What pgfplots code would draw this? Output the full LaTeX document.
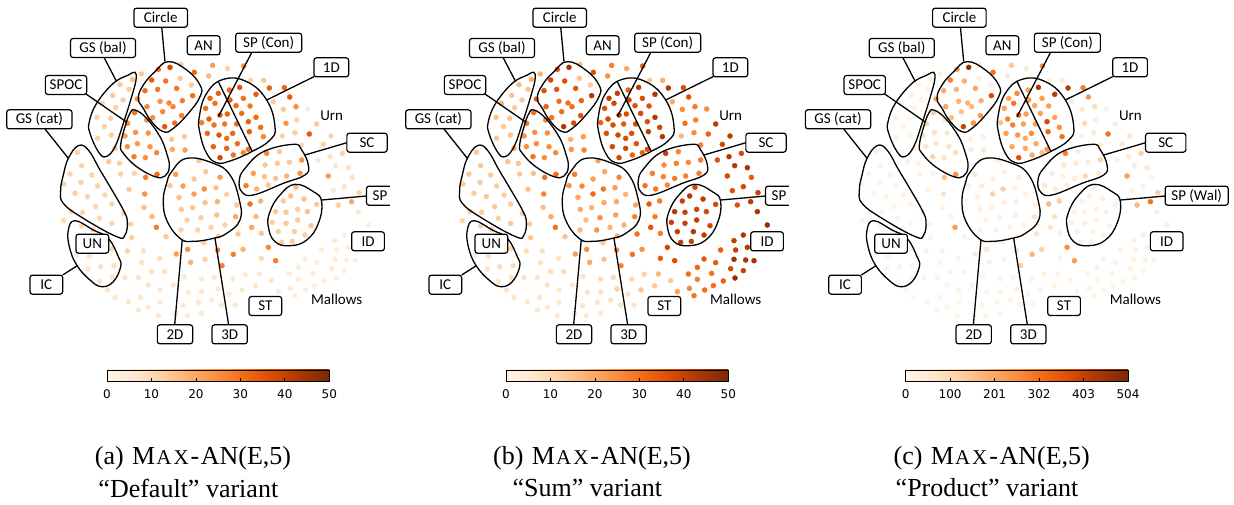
\documentclass[border=0pt]{standalone}
\usepackage{fontspec}
\setmainfont{Liberation Serif}
\newfontfamily\labfont{Carlito}
\newfontfamily\barfont{DejaVu Sans}
\usepackage{pgfplots}
\usepackage{pgfplotstable}
\pgfplotsset{compat=1.18}

% positions are in pixels x3 of the reference, a and b on 0..50, c on 0..504
\pgfplotstableread{
x y a b c
510 202 38 44 470
475 208 30 35 230
543 193 13 15 35
583 217 32 37 300
455 240 33 38 280
541 235 14 15 25
497 243 29 36 190
574 255 13 13 20
435 272 30 36 200
473 268 29 35 180
530 265 29 35 210
578 287 31 43 380
547 302 28 33 190
507 309 26 30 180
480 304 24 30 180
441 320 27 33 210
519 320 26 31 170
488 335 26 31 150
545 347 28 36 230
458 353 25 30 160
494 380 35 43 400
524 369 31 37 240
412 297 24 33 210
638 196 22 28 140
683 206 13 20 60
626 228 17 24 60
731 198 25 33 250
752 241 12 14 25
791 241 14 19 50
808 264 33 43 420
853 263 33 37 280
869 291 34 36 230
820 305 13 20 30
850 328 14 26 60
888 320 25 28 90
923 327 4 25 20
858 370 24 30 100
890 360 12 27 30
950 372 14 41 30
928 402 34 33 300
885 398 13 25 40
847 408 12 17 20
993 408 12 41 70
970 433 12 38 60
905 435 10 27 30
1027 460 12 38 120
990 470 8 42 50
955 480 5 36 20
1045 503 8 44 60
1007 497 6 42 40
424 222 14 18 15
397 238 15 19 25
360 254 14 17 25
387 268 13 15 20
338 286 14 15 20
369 300 13 14 18
307 310 12 19 22
347 323 13 14 18
291 352 12 15 20
332 355 13 15 15
313 380 12 14 20
293 415 12 14 15
334 405 13 15 15
345 445 14 20 30
404 338 30 30 130
383 370 26 29 120
440 360 24 27 70
407 397 24 25 80
445 399 24 25 60
375 408 22 24 60
412 431 23 25 70
382 440 25 25 70
450 440 24 25 70
402 470 28 30 120
436 473 25 25 70
470 458 26 26 90
471 523 31 31 250
437 532 28 30 160
515 418 14 18 30
553 410 14 23 35
517 448 20 24 40
555 450 22 27 55
630 295 32 40 210
655 280 33 41 260
688 270 30 33 210
719 262 35 42 440
768 283 34 43 420
730 295 30 37 220
690 300 33 38 230
617 325 30 36 210
645 310 30 38 300
708 317 31 36 200
750 318 29 36 220
660 345 34 40 330
682 342 33 37 220
627 357 33 38 270
725 340 31 38 220
768 352 31 43 210
745 365 33 37 380
605 368 28 33 160
642 375 30 37 280
674 372 29 34 220
710 372 30 37 220
782 382 31 39 250
622 400 32 37 220
657 405 35 38 240
698 400 32 37 260
748 395 34 41 320
680 415 31 37 200
640 440 33 38 210
680 445 33 38 200
712 431 31 36 200
790 410 26 43 300
745 448 30 37 240
660 473 38 38 360
700 465 30 33 190
730 458 27 33 160
838 455 14 27 40
800 460 26 41 280
795 495 14 25 50
832 490 14 27 45
868 487 14 26 50
905 480 24 28 110
760 520 22 28 40
793 530 15 27 30
827 535 15 28 40
860 528 18 27 110
900 520 24 28 50
738 557 28 30 60
770 567 18 29 50
805 555 14 26 40
985 528 22 38 220
1057 532 8 34 12
1033 560 7 38 12
1000 572 6 36 10
1077 578 12 40 130
1055 605 20 42 300
1015 615 13 36 170
1075 635 5 44 30
1105 675 3 47 25
1033 705 3 43 15
1005 722 4 40 15
1010 750 3 40 12
965 750 4 33 15
1045 742 3 42 10
1005 778 4 45 12
1040 780 3 44 12
1065 782 3 44 10
915 777 4 34 12
950 788 4 34 12
995 806 4 38 12
1033 812 3 40 10
895 802 4 32 12
938 820 4 30 12
1008 834 3 47 8
868 822 4 30 10
895 838 4 28 10
973 843 3 33 10
943 857 3 31 10
917 870 4 30 10
871 865 4 26 12
885 887 4 29 10
835 875 5 22 15
815 842 6 14 15
778 822 6 17 18
767 857 6 14 15
736 823 5 12 15
726 870 6 14 15
698 837 6 10 12
654 867 6 12 15
643 832 6 10 12
605 837 6 9 12
888 562 16 38 35
850 603 14 40 25
872 588 16 42 35
912 597 15 41 30
950 613 14 38 25
827 635 14 43 25
858 637 14 40 22
893 628 13 39 25
922 635 15 38 28
817 667 13 40 20
858 670 14 40 20
893 660 13 41 18
933 677 14 38 25
835 695 13 41 20
883 695 13 43 18
915 705 13 41 18
845 727 13 41 20
877 724 13 40 20
527 523 22 28 60
510 557 14 24 30
549 558 22 26 45
582 537 14 22 30
617 515 14 20 25
597 482 14 22 30
660 532 22 26 40
613 567 25 29 130
648 563 15 22 30
582 582 22 31 120
537 592 15 20 25
680 583 13 18 25
615 608 15 20 25
652 605 18 20 35
578 623 14 18 20
544 628 14 20 20
710 615 14 21 25
707 650 20 27 70
650 645 15 22 35
603 653 13 25 25
561 660 12 16 20
633 682 12 18 20
675 675 12 18 20
593 690 12 24 20
543 690 12 17 20
655 708 13 18 20
232 457 12 14 12
245 497 12 14 12
210 522 12 14 14
275 525 12 14 14
192 552 12 13 12
243 547 12 13 12
293 558 12 13 12
225 580 13 13 14
262 590 12 14 12
315 585 11 13 12
287 620 11 14 12
335 612 11 13 14
248 637 11 13 12
213 635 10 12 10
370 640 11 14 12
298 655 11 13 12
335 670 11 14 12
326 485 14 15 20
358 490 13 15 18
362 522 12 14 14
403 520 12 15 14
387 568 14 15 18
434 582 24 27 75
432 622 15 16 18
456 650 17 19 22
469 682 28 30 220
498 710 14 15 20
395 713 13 14 12
392 672 12 14 12
190 662 10 11 12
382 753 12 10 12
430 753 8 8 10
479 775 9 8 10
425 788 8 8 10
455 815 8 9 12
494 815 8 9 12
375 833 7 7 10
415 832 7 7 10
445 855 7 7 10
480 870 6 6 10
520 855 6 6 10
345 892 6 6 10
385 905 6 6 10
422 892 6 6 10
445 922 6 6 8
480 907 6 6 8
245 678 11 12 10
278 688 11 12 10
335 747 10 10 10
268 768 8 8 8
230 765 5 5 6
342 797 8 9 8
302 800 8 9 8
265 807 6 6 6
298 845 7 7 8
337 832 7 7 8
322 870 7 7 8
563 748 24 25 60
529 762 22 22 55
653 750 26 26 80
612 728 12 14 14
572 787 18 20 30
615 778 12 15 14
666 797 28 27 130
700 763 28 30 180
729 748 18 24 120
714 702 14 30 70
755 682 20 35 70
784 700 15 28 30
768 650 17 28 80
750 612 30 34 170
782 603 18 28 130
805 742 26 38 250
827 782 28 37 230
784 775 10 34 14
552 830 6 7 10
565 877 6 7 10
605 875 6 7 10
635 900 6 7 10
595 907 6 7 8
550 917 6 7 8
527 943 6 6 8
562 947 6 6 8
605 940 6 6 8
665 915 6 7 8
687 882 6 7 10
705 915 6 7 10
475 947 6 6 8
415 930 6 6 8
}\pts

\pgfplotsset{
  colormap={oranges}{rgb255=(255,245,235) rgb255=(254,230,206) rgb255=(253,208,162) rgb255=(253,174,107) rgb255=(253,141,60) rgb255=(241,105,19) rgb255=(217,72,1) rgb255=(166,54,3) rgb255=(127,39,4)},
  panel/.style={
    scale only axis, width=400pt, height=504pt,
    xmin=0, xmax=1200, ymin=0, ymax=1512, y dir=reverse,
    hide axis, clip=false, clip mode=individual, anchor=south west,
    colormap name=oranges,
    colorbar horizontal,
    colorbar style={
      scale only axis, width=222.3pt, height=11.7pt,
      at={(0.2675,0.2659)}, anchor=north west,
      tick style={black, line width=.7pt},
      xtick pos=bottom, major tick length=3.5pt,
      tick label style={font=\barfont\fontsize{12}{13}\selectfont},
      xticklabel shift=4.5pt,
      /pgf/number format/assume math mode=true,
      axis line style={line width=.7pt},
    },
  },
  dots/.style={
    scatter, only marks, mark=*, mark size=2.5pt,
    point meta=explicit,
    scatter/use mapped color={draw=mapped color, fill=mapped color},
  },
}
\tikzset{
  lab/.style={draw=black, fill=white, rounded corners=2.5pt, line width=1.2pt,
    inner sep=0pt, minimum height=19pt, font=\labfont\fontsize{15}{17}\selectfont},
  free/.style={font=\labfont\fontsize{15}{17}\selectfont},
  ring/.style={black, line width=1.3pt},
}

% everything drawn over the dots, the same in each panel
\newcommand{\regions}{%
  \draw[ring] plot[smooth cycle, tension=.75] coordinates {(505,185)(560,210)(600,255)(600,290)(565,340)(520,385)(490,395)(455,365)(430,325)(415,295)(430,255)(465,215)};
  \draw[ring] plot[smooth cycle, tension=.7] coordinates {(405,217)(408,240)(395,290)(370,370)(345,440)(318,470)(295,455)(270,400)(268,365)(290,310)(340,250)(385,225)};
  \draw[ring] plot[smooth cycle, tension=.7] coordinates {(405,330)(440,355)(480,410)(500,460)(508,500)(495,528)(465,530)(410,500)(370,460)(362,435)(375,380)(390,340)};
  \draw[ring] plot[smooth cycle, tension=.75] coordinates {(670,238)(740,245)(800,300)(825,380)(810,420)(755,455)(690,483)(650,488)(620,460)(600,400)(598,350)(620,280)};
  \draw[ring] plot[smooth cycle, tension=.75] coordinates {(560,475)(640,490)(690,525)(718,600)(720,660)(680,700)(640,715)(580,724)(540,715)(500,660)(490,600)(500,550)(515,515)};
  \draw[ring] plot[smooth cycle, tension=.7] coordinates {(880,433)(905,450)(925,495)(915,525)(850,550)(760,585)(725,575)(718,540)(735,505)(790,455)};
  \draw[ring] plot[smooth cycle, tension=.75] coordinates {(885,553)(940,575)(965,605)(955,670)(920,720)(870,737)(825,725)(805,680)(810,635)(840,585)};
  \draw[ring] plot[smooth cycle, tension=.7] coordinates {(235,437)(205,475)(190,525)(182,570)(190,610)(250,655)(350,710)(375,705)(382,665)(370,630)(330,560)(300,510)(265,450)};
  \draw[ring] plot[smooth cycle, tension=.7] coordinates {(225,662)(280,690)(325,715)(355,770)(362,800)(340,845)(305,860)(270,840)(230,795)(208,740)(205,690)};
  \draw[ring] (485,80)--(495,185);
  \draw[ring] (312,172)--(350,245);
  \draw[ring] (258,282)--(378,365);
  \draw[ring] (135,387)--(205,475);
  \draw[ring] (755,158)--(655,350);
  \draw[ring] (655,245)--(757,455);
  \draw[ring] (942,230)--(800,300);
  \draw[ring] (1041,428)--(915,465);
  \draw[ring] (1100,588)--(965,600);
  \draw[ring] (188,825)--(232,797);
  \draw[ring] (524,975)--(547,717);
  \draw[ring] (686,975)--(645,715);
  \node[lab, minimum width=53.5pt] at (482,53) {Circle};
  \node[lab, minimum width=65pt] at (309,144) {GS (bal)};
  \node[lab, minimum width=32.7pt] at (611,136) {AN};
  \node[lab, minimum width=66pt] at (806,128) {SP (Con)};
  \node[lab, minimum width=34.7pt] at (994,202) {1D};
  \node[lab, minimum width=41.3pt] at (198,255) {SPOC};
  \node[lab, minimum width=65.3pt] at (118,358) {GS (cat)};
  \node[lab, minimum width=40.3pt] at (1101,428) {SC};
  \node[lab, minimum width=63pt] at (1194,587) {SP (Wal)};
  \node[lab, minimum width=32.7pt] at (1104,724) {ID};
  \node[lab, minimum width=32.7pt] at (277,731) {UN};
  \node[lab, minimum width=32.7pt] at (139,854) {IC};
  \node[lab, minimum width=32.7pt] at (796,918) {ST};
  \node[lab, minimum width=35.3pt] at (525,1003) {2D};
  \node[lab, minimum width=35.3pt] at (689,1003) {3D};
  \node[free] at (995,348) {Urn};
  \node[free] at (1010,898) {Mallows};
}
\newcommand{\cut}{\fill[white] (1170,540) rectangle (1300,640);}
\newcommand{\capt}[2]{%
  \node[font=\fontsize{26}{30}\selectfont] at (579,1374) {(#1)\kern2pt\ M\kern1pt{\fontsize{21}{22}\selectfont A\kern2pt X}\kern2pt-\kern1.5pt AN(E,5)};
  \node[font=\fontsize{26}{30}\selectfont] at (565,1464) {#2};
}

\begin{document}
\begin{tikzpicture}[x=1pt,y=1pt]
\useasboundingbox (0,0) rectangle (1234,504);

\begin{axis}[panel, at={(0pt,0pt)}, point meta min=0, point meta max=50,
  colorbar style={xtick={0,10,20,30,40,50}}]
  \addplot[dots] table[x=x, y=y, meta=a] {\pts};
  \regions
  \cut
  \capt{a}{``Default'' variant}
\end{axis}

\begin{axis}[panel, at={(399pt,0pt)}, point meta min=0, point meta max=50,
  colorbar style={xtick={0,10,20,30,40,50}}]
  \addplot[dots] table[x=x, y=y, meta=b] {\pts};
  \regions
  \cut
  \capt{b}{``Sum'' variant}
\end{axis}

\begin{axis}[panel, at={(798.7pt,0pt)}, point meta min=0, point meta max=504,
  colorbar style={xtick={0,100.8,201.6,302.4,403.2,504}, xticklabels={0,100,201,302,403,504}}]
  \addplot[dots] table[x=x, y=y, meta=c] {\pts};
  \regions
  \capt{c}{``Product'' variant}
\end{axis}
\end{tikzpicture}
\end{document}
